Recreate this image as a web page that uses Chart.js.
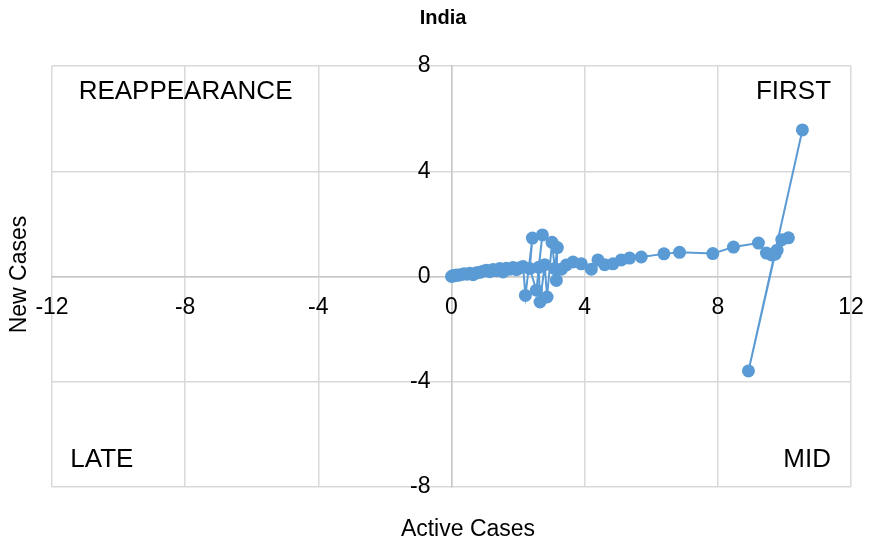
<!DOCTYPE html>
<html>
<head>
<meta charset="utf-8">
<script src="https://cdn.jsdelivr.net/npm/chart.js@4/dist/chart.umd.min.js"></script>
<style>
  html, body { margin: 0; padding: 0; background: #fff; }
  #wrap { width: 871px; height: 546px; }
</style>
</head>
<body>
<div id="wrap"><canvas id="indiaChart" width="871" height="546"></canvas></div>
<script>
// Active cases (x) vs new cases (y), in chart order
const activeCases = [
    0.00, 0.03, 0.06, 0.10, 0.15, 0.22, 0.30, 0.38, 0.47, 0.55, 0.65, 0.75, 0.85,
    0.95, 1.05, 1.15, 1.25, 1.35, 1.45, 1.55, 1.65, 1.75, 1.85, 1.95, 2.05, 2.15,
    2.22, 2.43, 2.35, 2.55, 2.73, 2.62, 2.66, 2.80, 2.87, 3.02, 3.10, 3.18, 3.15, 3.30,
    3.45, 3.65, 3.90, 4.20, 4.40, 4.60, 4.85, 5.10, 5.35, 5.70, 6.38, 6.85, 7.85,
    8.47, 9.22, 9.46, 9.62, 9.78, 9.92, 10.12, 9.72, 8.92, 10.54
];
const newCases = [
    0.00, 0.02, 0.04, 0.03, 0.06, 0.05, 0.08, 0.10, 0.09, 0.12, 0.07, 0.14, 0.16,
    0.20, 0.24, 0.18, 0.27, 0.22, 0.30, 0.17, 0.31, 0.28, 0.34, 0.26, 0.33, 0.38,
    -0.72, 1.46, 0.30, -0.52, 1.58, 0.35, -0.97, 0.45, -0.78, 1.30, 0.30, 1.10, -0.15, 0.28,
    0.44, 0.55, 0.48, 0.28, 0.63, 0.45, 0.48, 0.63, 0.70, 0.74, 0.86, 0.92, 0.87,
    1.12, 1.27, 0.89, 0.82, 1.00, 1.40, 1.47, 0.85, -3.59, 5.57
];
const tickValues = [-12, -8, -4, 0, 4, 8, 12];
const yTickValues = [-8, -4, 0, 4, 8];
const quadrantLabels = ['REAPPEARANCE', 'FIRST', 'LATE', 'MID'];

const FONT = '"Liberation Sans", Arial, sans-serif';
const GRID = '#d9d9d9';
const BLUE = '#5b9bd5';

// Text that sits on the chart: quadrant names, axis titles, chart title
const textPlugin = {
    id: 'textPlugin',
    afterDraw(chart) {
        const { ctx, scales } = chart;
        const x = scales.x, y = scales.y;
        ctx.save();
        ctx.fillStyle = '#000';

        ctx.font = '26px ' + FONT;
        ctx.textBaseline = 'middle';
        ctx.textAlign = 'left';
        ctx.fillText(quadrantLabels[0], x.getPixelForValue(-11.2), y.getPixelForValue(7));
        ctx.fillText(quadrantLabels[2], x.getPixelForValue(-11.45), y.getPixelForValue(-6.95));
        ctx.textAlign = 'right';
        ctx.fillText(quadrantLabels[1], x.getPixelForValue(11.4), y.getPixelForValue(7));
        ctx.fillText(quadrantLabels[3], x.getPixelForValue(11.4), y.getPixelForValue(-6.95));

        // tick labels along the zero axes
        ctx.font = '23px ' + FONT;
        ctx.textAlign = 'center';
        tickValues.forEach(v => {
            ctx.fillText(String(v), x.getPixelForValue(v), y.getPixelForValue(0) + 31);
        });
        ctx.textAlign = 'right';
        yTickValues.forEach(v => {
            ctx.fillText(String(v), x.getPixelForValue(0) - 21, y.getPixelForValue(v));
        });

        // axis titles
        ctx.font = '23px ' + FONT;
        ctx.textAlign = 'center';
        ctx.fillText('Active Cases', 468, 530);
        ctx.save();
        ctx.translate(20, y.getPixelForValue(0) - 2);
        ctx.rotate(-Math.PI / 2);
        ctx.fillText('New Cases', 0, 0);
        ctx.restore();

        ctx.font = 'bold 20px ' + FONT;
        ctx.fillText('India', 443, 18);
        ctx.restore();
    }
};

const ctxIndia = document.getElementById('indiaChart').getContext('2d');
new Chart(ctxIndia, {
    type: 'scatter',
    data: {
        datasets: [{
            label: 'India',
            data: activeCases.map((v, i) => ({ x: v, y: newCases[i] })),
            showLine: true,
            borderColor: BLUE,
            backgroundColor: BLUE,
            borderWidth: 2,
            pointRadius: 6.5,
            pointBorderWidth: 0,
            pointHoverRadius: 6.5
        }]
    },
    options: {
        responsive: false,
        animation: false,
        layout: { padding: { left: 52, right: 20, top: 66, bottom: 59 } },
        plugins: {
            legend: { display: false },
            tooltip: { enabled: false }
        },
        scales: {
            x: {
                min: -12,
                max: 12,
                position: { y: 0 },
                ticks: { stepSize: 4, display: false },
                grid: { color: GRID, lineWidth: 1.5, drawTicks: false },
                border: { display: true, color: '#c8c8c8', width: 1.5 }
            },
            y: {
                min: -8,
                max: 8,
                position: { x: 0 },
                ticks: { stepSize: 4, display: false },
                grid: { color: GRID, lineWidth: 1.5, drawTicks: false },
                border: { display: true, color: '#c8c8c8', width: 1.5 }
            }
        }
    },
    plugins: [textPlugin]
});
</script>
</body>
</html>
